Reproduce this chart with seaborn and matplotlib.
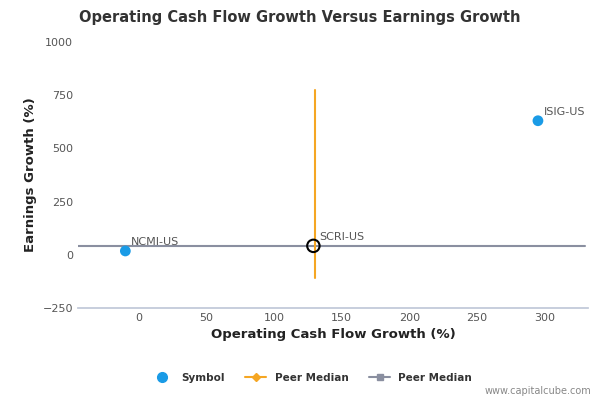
import matplotlib.pyplot as plt
import matplotlib.lines as mlines
import seaborn as sns
import pandas as pd

symbols = ["NCMI-US", "SCRI-US", "ISIG-US"]
cash_flow_growth = [-10, 129, 295]
earnings_growth = [18, 42, 630]
peer_median_x = 130
peer_median_y = 40
vline_range = [-110, 775]
hline_range = [-45, 330]

df = pd.DataFrame({"sym": symbols, "x": cash_flow_growth, "y": earnings_growth})

sns.set_theme(style="white")
fig = plt.figure(figsize=(6, 4), dpi=100)
ax = fig.add_axes([0.13, 0.23, 0.85, 0.665])

ax.plot(hline_range, [peer_median_y] * 2, color="#8a8fa0", lw=1.5, zorder=1)
ax.plot([peer_median_x] * 2, vline_range, color="#f5a623", lw=1.5, zorder=2)

others = df[df["sym"] != "SCRI-US"]
sns.scatterplot(data=others, x="x", y="y", color="#1a9be6", s=60, edgecolor="none", ax=ax, zorder=3)
focus = df[df["sym"] == "SCRI-US"]
ax.scatter(focus["x"], focus["y"], s=80, facecolor="none", edgecolor="black", lw=1.5, zorder=4)

for _, r in df.iterrows():
    ax.annotate(r["sym"], (r["x"], r["y"]), xytext=(4, 4), textcoords="offset points",
                fontsize=8, color="#555555")

ax.set_xlim(-45, 332)
ax.set_ylim(-250, 1000)
ax.set_xticks([0, 50, 100, 150, 200, 250, 300])
ax.set_yticks([-250, 0, 250, 500, 750, 1000])
ax.tick_params(labelsize=8, colors="#555555", length=0)
for s in ["top", "right", "left"]:
    ax.spines[s].set_visible(False)
ax.spines["bottom"].set_color("#c0c8d8")
ax.set_xlabel("Operating Cash Flow Growth (%)", fontsize=9.5, fontweight="bold", color="#222222")
ax.set_ylabel("Earnings Growth (%)", fontsize=9.5, fontweight="bold", color="#222222")
fig.suptitle("Operating Cash Flow Growth Versus Earnings Growth", x=0.5, y=0.975,
             fontsize=10.5, fontweight="bold", color="#333333")

handles = [
    mlines.Line2D([], [], color="#1a9be6", marker="o", ls="none", markersize=7),
    mlines.Line2D([], [], color="#f5a623", marker="D", markersize=4, lw=1.5),
    mlines.Line2D([], [], color="#8a8fa0", marker="s", markersize=5, lw=1.5),
]
fig.legend(handles, ["Symbol", "Peer Median", "Peer Median"], loc="lower center",
           bbox_to_anchor=(0.52, 0.02), ncol=3, frameon=False,
           prop={"size": 7.5, "weight": "bold"}, labelcolor="#333333")
fig.text(0.985, 0.015, "www.capitalcube.com", ha="right", fontsize=7, color="#888888")

fig.savefig("out.png", dpi=100)
